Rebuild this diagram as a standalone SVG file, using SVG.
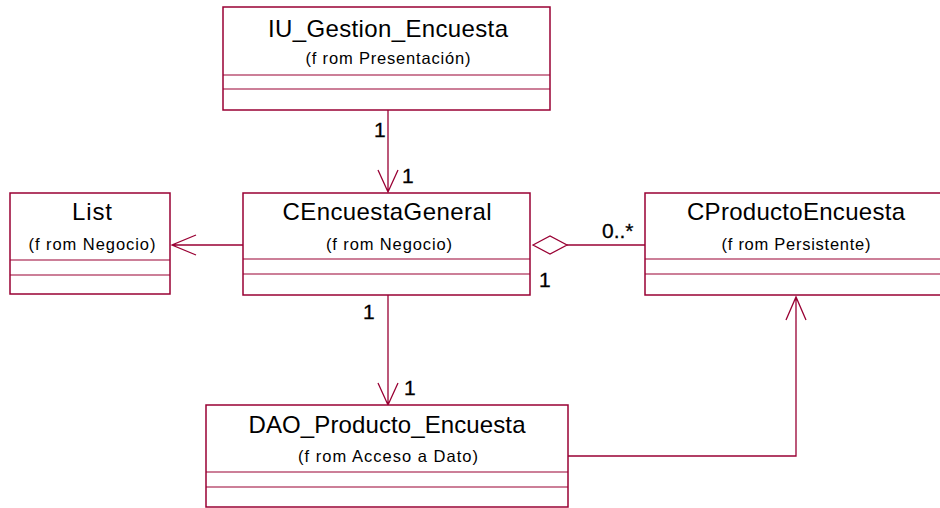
<svg xmlns="http://www.w3.org/2000/svg" width="940" height="508" viewBox="0 0 940 508">
<style>
.box{fill:#fff;stroke:#990033;stroke-width:1.5}
.div{stroke:#990033;stroke-width:1.2}
.ln{fill:none;stroke:#990033;stroke-width:1.3}
.t{font-family:"Liberation Sans",Arial,sans-serif;font-size:24px;fill:#000;text-anchor:middle}
.s{font-family:"Liberation Sans",Arial,sans-serif;font-size:16.5px;fill:#000;text-anchor:middle}
.m{font-family:"Liberation Sans",Arial,sans-serif;font-size:21px;fill:#000;stroke:#000;stroke-width:0.3}
</style>
<rect width="940" height="508" fill="#fff"/>
<g id="connectors">
<path class="ln" d="M388 110V192M378 170L388 192L398 170"/>
<path class="ln" d="M243 245H172M196 235L172 245L196 255"/>
<path class="ln" d="M567 245H645"/>
<path class="ln" d="M533 245L550 236L567 245L550 254Z" fill="#fff"/>
<path class="ln" d="M388 295V405M378 383L388 405L398 383"/>
<path class="ln" d="M568 456H796V297M786 320L796 297L806 320"/>
</g>
<g id="labels">
<text class="m" x="374" y="137">1</text>
<text class="m" x="402" y="183">1</text>
<text class="m" x="602" y="238">0..*</text>
<text class="m" x="539" y="287">1</text>
<text class="m" x="363" y="319">1</text>
<text class="m" x="404" y="395">1</text>
</g>
<g id="IU_Gestion_Encuesta">
<rect class="box" x="223" y="7" width="327" height="103"/>
<line class="div" x1="223" y1="75" x2="550" y2="75"/>
<line class="div" x1="223" y1="89" x2="550" y2="89"/>
<text class="t" x="388" y="37" textLength="240" lengthAdjust="spacing">IU_Gestion_Encuesta</text>
<text class="s" x="388" y="64" textLength="165" lengthAdjust="spacing">(f rom Presentación)</text>
</g>
<g id="List">
<rect class="box" x="10" y="193" width="160" height="101"/>
<line class="div" x1="10" y1="260" x2="170" y2="260"/>
<line class="div" x1="10" y1="275" x2="170" y2="275"/>
<text class="t" x="92" y="220" textLength="40" lengthAdjust="spacing">List</text>
<text class="s" x="92" y="250" textLength="127" lengthAdjust="spacing">(f rom Negocio)</text>
</g>
<g id="CEncuestaGeneral">
<rect class="box" x="243" y="193" width="287" height="102"/>
<line class="div" x1="243" y1="259" x2="530" y2="259"/>
<line class="div" x1="243" y1="274" x2="530" y2="274"/>
<text class="t" x="387" y="220" textLength="209" lengthAdjust="spacing">CEncuestaGeneral</text>
<text class="s" x="389" y="250" textLength="126" lengthAdjust="spacing">(f rom Negocio)</text>
</g>
<g id="CProductoEncuesta">
<rect class="box" x="645" y="193" width="300" height="102"/>
<line class="div" x1="645" y1="259" x2="945" y2="259"/>
<line class="div" x1="645" y1="274" x2="945" y2="274"/>
<text class="t" x="796" y="220" textLength="218" lengthAdjust="spacing">CProductoEncuesta</text>
<text class="s" x="796" y="250" textLength="149" lengthAdjust="spacing">(f rom Persistente)</text>
</g>
<g id="DAO_Producto_Encuesta">
<rect class="box" x="206" y="405" width="362" height="102"/>
<line class="div" x1="206" y1="472" x2="568" y2="472"/>
<line class="div" x1="206" y1="487" x2="568" y2="487"/>
<text class="t" x="387" y="433" textLength="277" lengthAdjust="spacing">DAO_Producto_Encuesta</text>
<text class="s" x="388" y="462" textLength="180" lengthAdjust="spacing">(f rom Acceso a Dato)</text>
</g>
</svg>
